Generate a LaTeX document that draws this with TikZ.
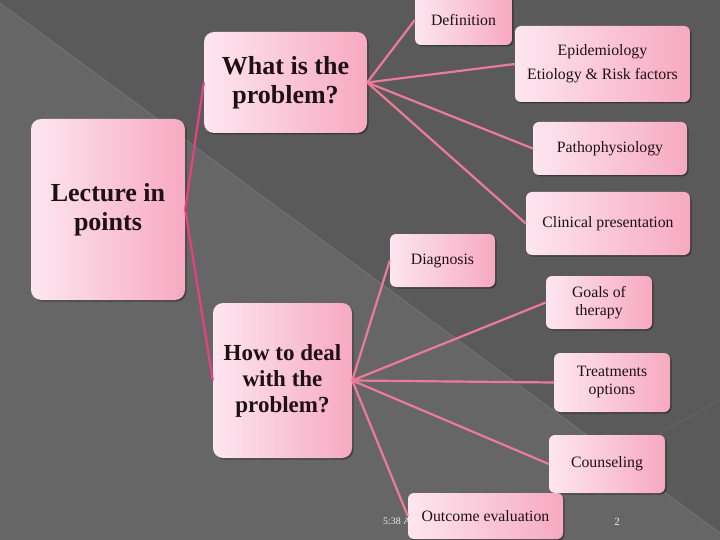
\documentclass[tikz,border=0pt]{standalone}
\usepackage{fontspec}
\setmainfont{Liberation Serif}
\usetikzlibrary{shadows}
\definecolor{bgdark}{HTML}{5A5A5A}
\definecolor{bglight}{HTML}{666666}
\definecolor{pinkL}{HTML}{FDE6EF}
\definecolor{pinkR}{HTML}{F7A9C2}
\definecolor{linkA}{HTML}{E8417F}
\definecolor{linkB}{HTML}{EC7A9C}
\definecolor{ink}{HTML}{1E1014}
\tikzset{
 box/.style={rectangle, rounded corners=6pt, left color=pinkL, right color=pinkR, draw=none, align=center, inner sep=2pt, text=ink,
   drop shadow={shadow xshift=1.5pt, shadow yshift=-1.5pt, opacity=0.35, fill=black}},
 smallbox/.style={box, font=\fontsize{15.8}{18}\selectfont},
 bigbox/.style={box, rounded corners=10pt, font=\bfseries\fontsize{26}{29}\selectfont},
 linkdark/.style={draw=linkA, line width=2.2pt},
 linklight/.style={draw=linkB, line width=2.2pt},
 foot/.style={text=white!85!gray, font=\fontsize{10}{12}\selectfont, inner sep=0pt}
}
\begin{document}
\begin{tikzpicture}[x=1pt,y=-1pt]
\useasboundingbox (0,0) rectangle (720,540);
% background
\fill[bgdark] (0,0) rectangle (720,540);
\fill[bglight] (0,3) -- (720,533) -- (720,540) -- (0,540) -- cycle;
\draw[white, opacity=0.12, line width=0.8pt] (0,3) -- (720,533);
\draw[white, opacity=0.07, line width=0.8pt] (660,433) -- (720,400);
% footer texts
\node[foot, anchor=west] (time) at (383,521) {5:38 AM};
\node[foot, font=\fontsize{11}{12}\selectfont] (page) at (617,522) {2};
% main nodes
\node[bigbox, minimum width=154pt, minimum height=181pt] (lect) at (108,209.5) {Lecture in\\points};
\node[bigbox, minimum width=163pt, minimum height=101pt] (what) at (285.5,82.5) {What is the\\problem?};
\node[bigbox, font=\bfseries\fontsize{23}{26}\selectfont, minimum width=139pt, minimum height=155pt] (how) at (282.5,380.5) {How to deal\\with the\\problem?};
% child nodes
\node[smallbox, minimum width=97pt, minimum height=50pt] (def) at (463.5,20) {Definition};
\node[smallbox, font=\fontsize{15.8}{24}\selectfont, minimum width=175pt, minimum height=76pt] (epi) at (602.5,64) {Epidemiology\\Etiology \& Risk factors};
\node[smallbox, minimum width=154pt, minimum height=53pt] (patho) at (610,148.5) {Pathophysiology};
\node[smallbox, minimum width=164pt, minimum height=63pt] (clin) at (608,223.5) {Clinical presentation};
\node[smallbox, minimum width=105pt, minimum height=53pt] (diag) at (442.5,260.5) {Diagnosis};
\node[smallbox, minimum width=106pt, minimum height=53pt] (goals) at (599,302.5) {Goals of\\therapy};
\node[smallbox, minimum width=116pt, minimum height=59pt] (treat) at (612,382.5) {Treatments\\options};
\node[smallbox, minimum width=116pt, minimum height=58pt] (couns) at (607,464) {Counseling};
\node[smallbox, minimum width=155pt, minimum height=46pt] (outc) at (485.5,516) {Outcome evaluation};
% connectors
\draw[linkdark] (lect.east) -- (what.west);
\draw[linkdark] (lect.east) -- (how.west);
\draw[linklight] (what.east) -- (def.west);
\draw[linklight] (what.east) -- (epi.west);
\draw[linklight] (what.east) -- (patho.west);
\draw[linklight] (what.east) -- (clin.west);
\draw[linklight] (how.east) -- (diag.west);
\draw[linklight] (how.east) -- (goals.west);
\draw[linklight] (how.east) -- (treat.west);
\draw[linklight] (how.east) -- (couns.west);
\draw[linklight] (how.east) -- (outc.west);
\end{tikzpicture}
\end{document}
